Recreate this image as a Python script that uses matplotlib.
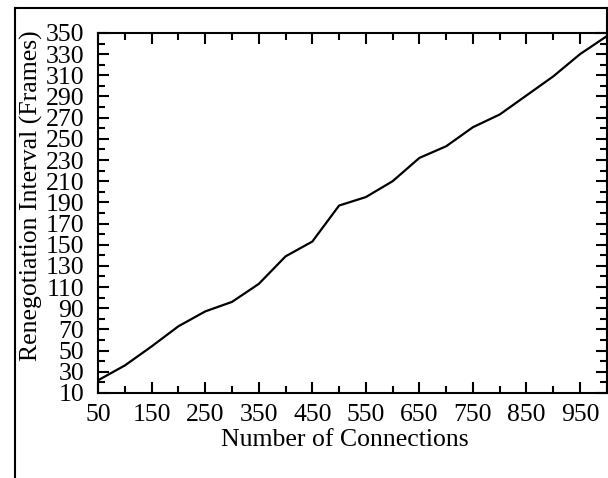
import matplotlib.pyplot as plt
from matplotlib.lines import Line2D
from matplotlib.ticker import MultipleLocator

connections = [50, 100, 150, 200, 250, 300, 350, 400, 450, 500,
               550, 600, 650, 700, 750, 800, 850, 900, 950, 1000]
interval = [22, 36, 54, 73, 87, 96, 113, 139, 153, 187,
            195, 210, 232, 243, 261, 273, 291, 309, 330, 347]

xticks = list(range(50, 1000, 100))
yticks = list(range(10, 351, 20))

plt.rcParams['font.family'] = ['Liberation Serif', 'DejaVu Serif']

fig = plt.figure(figsize=(6.08, 4.78), dpi=100)
ax = fig.add_axes([0.1615, 0.178, 0.8365, 0.753])

ax.plot(connections, interval, color='black', lw=1.6)

ax.set_xlim(50, 1000)
ax.set_ylim(10, 350)
ax.set_xticks(xticks)
ax.set_yticks(yticks)
ax.xaxis.set_minor_locator(MultipleLocator(50))
ax.yaxis.set_minor_locator(MultipleLocator(10))
ax.tick_params(which='both', direction='in', top=True, right=True,
               width=1.5, labelsize=18.5, colors='black')
ax.tick_params(which='major', length=8)
ax.tick_params(which='minor', length=5)
ax.tick_params(axis='y', pad=10)
ax.tick_params(axis='x', pad=8)
for s in ax.spines.values():
    s.set_linewidth(1.5)

ax.set_xlabel('Number of Connections', fontsize=18.5)
ax.set_ylabel('Renegotiation Interval (Frames)', fontsize=18.5)
ax.xaxis.set_label_coords(0.485, -0.1)
ax.yaxis.set_label_coords(-0.109, 0.548)

# outer frame (bottom edge falls outside the picture)
W, H = 608, 478
fx = lambda p: p / W
fy = lambda p: 1 - p / H
fig.add_artist(Line2D([fx(15), fx(15)], [fy(8), 0], color='black', lw=1.5))
fig.add_artist(Line2D([fx(15), fx(607)], [fy(8), fy(8)], color='black', lw=1.5))
fig.add_artist(Line2D([fx(607), fx(607)], [fy(8), fy(33)], color='black', lw=1.5))

fig.savefig('out.png', dpi=100)
